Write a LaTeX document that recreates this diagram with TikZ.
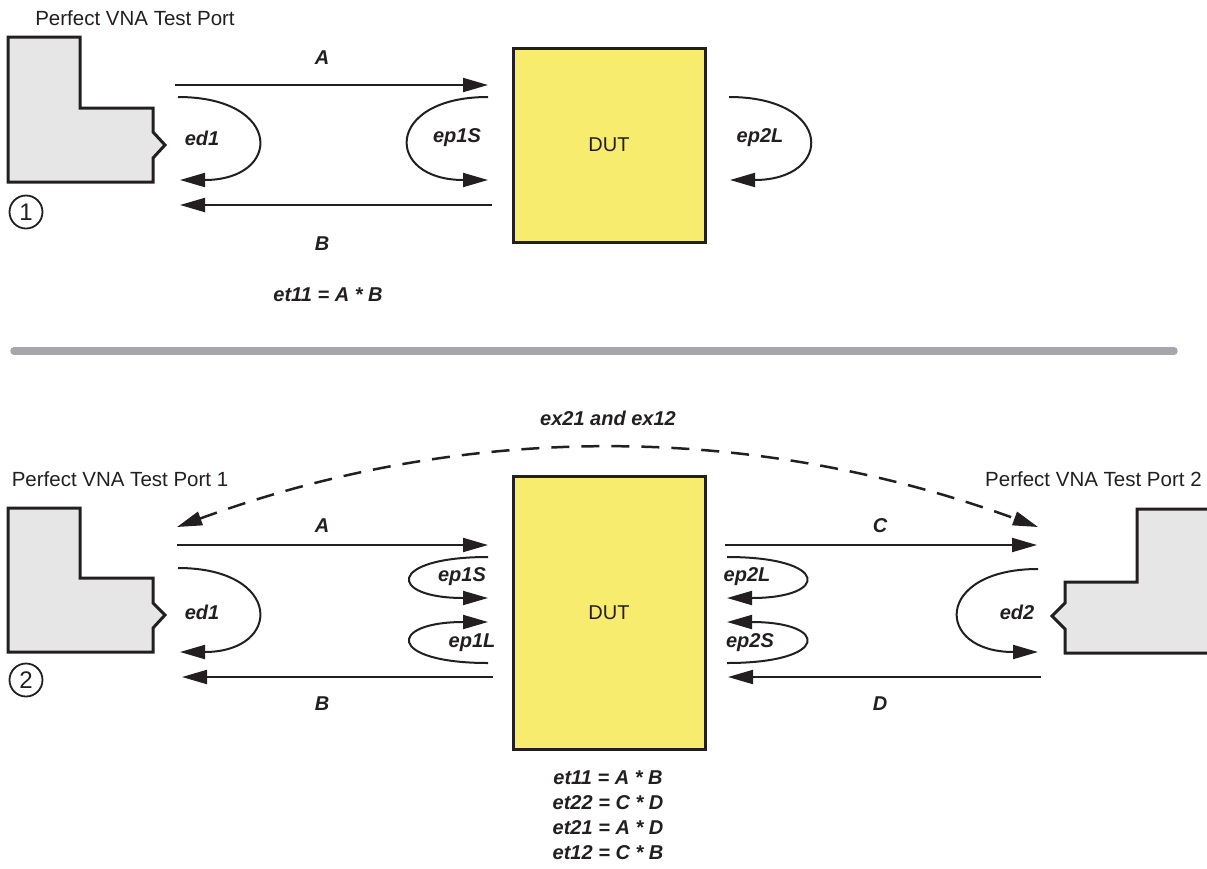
\documentclass[tikz,border=0pt]{standalone}
\usepackage{fontspec}
\setmainfont{Liberation Sans}
\usetikzlibrary{arrows.meta}
\definecolor{ink}{HTML}{231F20}
\definecolor{dutfill}{HTML}{F8EC6E}
\definecolor{portfill}{HTML}{E6E6E6}
\definecolor{sepgray}{HTML}{A7A7AB}
\begin{document}
\begin{tikzpicture}[x=1pt,y=-1pt,
  bigtip/.tip={Triangle[length=25pt,width=14pt]},
  arr/.style={draw=ink, line width=2pt, -bigtip},
  darr/.style={draw=ink, line width=2.5pt, bigtip-bigtip, dash pattern=on 18pt off 12pt},
  lbl/.style={font=\fontsize{20}{24}\selectfont\bfseries\itshape, text=ink, inner sep=0pt},
  captxt/.style={font=\fontsize{20.5}{24}\selectfont, text=ink, inner sep=0pt},
  port/.style={draw=ink, line width=3pt, fill=portfill, line join=miter},
  dut/.style={draw=ink, line width=3pt, fill=dutfill, rectangle, inner sep=0pt,
              font=\fontsize{20}{24}\selectfont, text=ink},
  num/.style={circle, draw=ink, line width=1.8pt, minimum size=33pt, inner sep=0pt,
              font=\fontsize{24}{24}\selectfont, text=ink},
  sepline/.style={draw=sepgray, line width=7.5pt, line cap=round},
]
\useasboundingbox (0,0) rectangle (1207,868);

% ================= TOP =================
\node[captxt] (title1) at (135,18) {Perfect VNA Test Port};
\draw[port] (8,37) -- (80,37) -- (80,108) -- (153,108) -- (153,132) -- (165,145)
  -- (153,158) -- (153,182) -- (8,182) -- cycle;
\node[num] (n1) at (26,212) {1};
\node[dut, minimum width=192pt, minimum height=194pt] (dut1) at (609,145) {DUT};

\coordinate (tA1) at (175,85);  \coordinate (tA2) at (488,85);
\coordinate (tB1) at (492,205); \coordinate (tB2) at (180,205);
\draw[arr] (tA1) -- (tA2);
\draw[arr] (tB1) -- (tB2);

\coordinate (ted1s) at (178,97);  \coordinate (ted1e) at (180,180);
\coordinate (tp1s) at (488,97);   \coordinate (tp1e) at (488,180);
\coordinate (tp2s) at (729,97);   \coordinate (tp2e) at (730,180);
\draw[arr] (ted1s) .. controls (283,97) and (283,180) .. (ted1e);
\draw[arr] (tp1s) .. controls (384,97) and (384,180) .. (tp1e);
\draw[arr] (tp2s) .. controls (834,97) and (834,180) .. (tp2e);

\node[lbl] (tlA) at (322,58) {A};
\node[lbl] (tlB) at (322,244) {B};
\node[lbl] (tled1) at (202,138) {ed1};
\node[lbl] (tlep1S) at (457,138) {ep1S};
\node[lbl] (tlep2L) at (760,138) {ep2L};
\node[lbl] (teq) at (328,295) {et11 = A * B};

% ================= SEPARATOR =================
\coordinate (sepL) at (14,351); \coordinate (sepR) at (1174,351);
\draw[sepline] (sepL) -- (sepR);

% ================= BOTTOM =================
\node[lbl] (exlbl) at (608,418) {ex21 and ex12};
\node[captxt] (title2) at (120,479) {Perfect VNA Test Port 1};
\node[captxt, anchor=west] (title3) at (985,479) {Perfect VNA Test Port 2};

\draw[port] (8,508) -- (80,508) -- (80,578) -- (153,578) -- (153,603) -- (165,615)
  -- (153,628) -- (153,652) -- (8,652) -- cycle;
\draw[port] (1212,509) -- (1137,509) -- (1137,582) -- (1065,582) -- (1065,603) -- (1052,616)
  -- (1065,629) -- (1065,653) -- (1212,653) -- cycle;
\node[num] (n2) at (26,680) {2};
\node[dut, minimum width=192pt, minimum height=273pt] (dut2) at (609,612.5) {DUT};

\coordinate (dL) at (177,527); \coordinate (dR) at (1038,527);
\draw[darr] (dL) .. controls (464,422) and (751,422) .. (dR);

\coordinate (bA1) at (177,545);  \coordinate (bA2) at (488,545);
\coordinate (bB1) at (493,677);  \coordinate (bB2) at (182,677);
\coordinate (bC1) at (725,545);  \coordinate (bC2) at (1037,545);
\coordinate (bD1) at (1041,677); \coordinate (bD2) at (728,677);
\draw[arr] (bA1) -- (bA2);
\draw[arr] (bB1) -- (bB2);
\draw[arr] (bC1) -- (bC2);
\draw[arr] (bD1) -- (bD2);

\coordinate (bed1s) at (178,568);  \coordinate (bed1e) at (180,652);
\coordinate (bp1Ss) at (488,557);  \coordinate (bp1Se) at (488,598);
\coordinate (bp1Ls) at (488,663);  \coordinate (bp1Le) at (488,622);
\coordinate (bp2Ls) at (727,557);  \coordinate (bp2Le) at (727,598);
\coordinate (bp2Ss) at (727,663);  \coordinate (bp2Se) at (727,622);
\coordinate (bed2s) at (1038,569); \coordinate (bed2e) at (1038,652);
\draw[arr] (bed1s) .. controls (283,568) and (283,652) .. (bed1e);
\draw[arr] (bp1Ss) .. controls (387,557) and (387,598) .. (bp1Se);
\draw[arr] (bp1Ls) .. controls (387,663) and (387,622) .. (bp1Le);
\draw[arr] (bp2Ls) .. controls (830,557) and (830,598) .. (bp2Le);
\draw[arr] (bp2Ss) .. controls (830,663) and (830,622) .. (bp2Se);
\draw[arr] (bed2s) .. controls (934,569) and (934,652) .. (bed2e);

\node[lbl] (blA) at (322,526) {A};
\node[lbl] (blB) at (322,704) {B};
\node[lbl] (blC) at (880,526) {C};
\node[lbl] (blD) at (880,704) {D};
\node[lbl] (bled1) at (202,612) {ed1};
\node[lbl] (bled2) at (1017,612) {ed2};
\node[lbl] (blp1S) at (462,577) {ep1S};
\node[lbl] (blp1L) at (472,643) {ep1L};
\node[lbl] (blp2L) at (747,577) {ep2L};
\node[lbl] (blp2S) at (750,643) {ep2S};

\node[lbl] (eq1) at (608,778) {et11 = A * B};
\node[lbl] (eq2) at (608,803) {et22 = C * D};
\node[lbl] (eq3) at (608,828) {et21 = A * D};
\node[lbl] (eq4) at (608,853) {et12 = C * B};
\end{tikzpicture}
\end{document}
